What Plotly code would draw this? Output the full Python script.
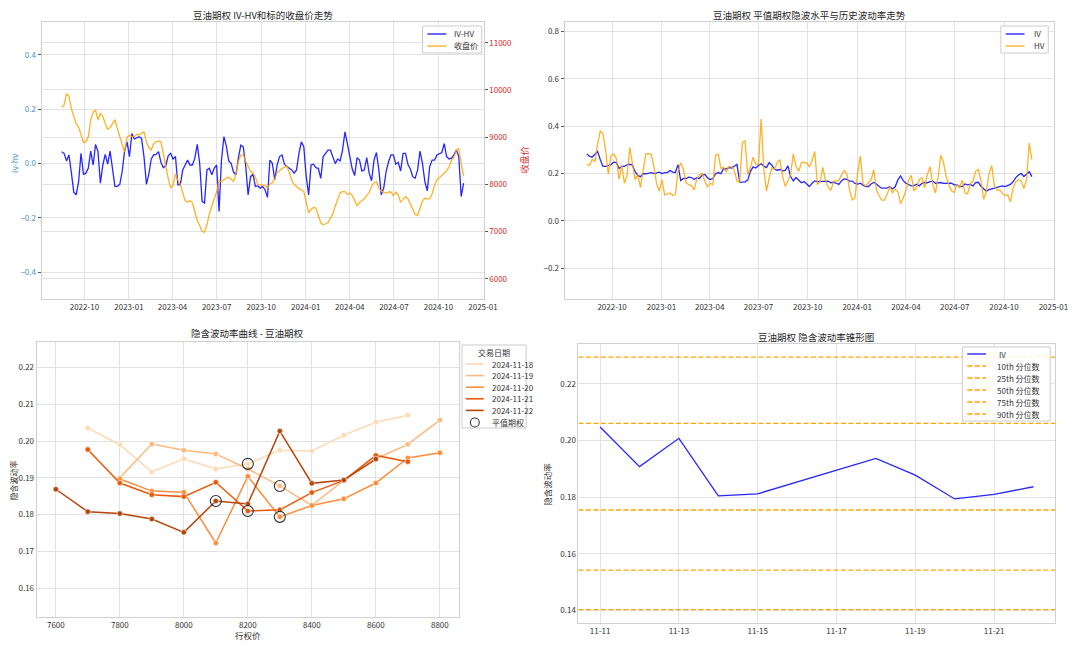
import pandas as pd
import plotly.graph_objects as go

# ---------------- data ----------------
# top panels: sampled every 5 calendar days, 2022-08-15 .. 2024-11-22
ts_start = "2022-08-15"
ts_end = "2024-11-22"

iv_minus_hv = [
    0.044, 0.038, 0.010, 0.032, -0.032, -0.105, -0.115, -0.066, 0.038, -0.039,
    -0.035, -0.017, 0.046, -0.005, 0.071, 0.044, -0.072, -0.005, 0.034, -0.002,
    0.046, -0.017, -0.084, -0.084, -0.076, -0.029, 0.046, 0.080, 0.026, 0.111,
    0.090, 0.095, 0.099, 0.093, 0.026, -0.076, -0.039, 0.017, 0.032, 0.034,
    0.044, 0.005, -0.015, -0.007, 0.029, 0.038, 0.017, 0.026, -0.078, -0.078,
    -0.023, -0.005, 0.013, -0.005, -0.005, 0.020, 0.071, 0.001, -0.139, -0.145,
    -0.023, -0.017, -0.041, -0.017, -0.005, -0.176, 0.013, 0.099, 0.065, 0.010,
    0.001, -0.032, -0.041, 0.022, 0.068, 0.062, -0.007, -0.115, -0.048, -0.039,
    -0.084, -0.082, -0.090, -0.084, -0.096, -0.124, 0.013, 0.001, -0.060, -0.005,
    0.026, 0.032, -0.002, -0.011, -0.017, -0.023, -0.035, -0.023, 0.038, 0.080,
    0.062, -0.048, -0.115, -0.005, -0.002, -0.015, -0.017, -0.054, 0.026, 0.038,
    0.050, 0.050, 0.026, 0.000, 0.017, 0.010, 0.050, 0.117, 0.074, 0.029,
    -0.020, -0.044, 0.022, 0.013, -0.027, -0.023, 0.022, -0.035, -0.063, 0.013,
    0.041, -0.023, -0.115, -0.090, -0.029, 0.007, 0.032, 0.032, -0.002, 0.005,
    -0.027, 0.038, 0.038, -0.002, -0.020, -0.048, -0.054, -0.023, 0.046, 0.001,
    -0.066, -0.100, -0.011, 0.013, 0.013, 0.032, 0.038, 0.041, 0.074, 0.026,
    0.017, 0.020, 0.032, 0.050, 0.026, -0.121, -0.072,
]

close_price = [
    9631, 9680, 9920, 9870, 9610, 9420, 9280, 9215, 9070, 8890,
    8905, 9000, 9360, 9530, 9570, 9370, 9500, 9440, 9290, 9170,
    9200, 9290, 9370, 9184, 9030, 8860, 8680, 9000, 9040, 9010,
    9010, 9057, 9050, 9080, 9113, 8900, 8780, 8730, 8860, 8900,
    8915, 8900, 8640, 8310, 8130, 7930, 7979, 8220, 8085, 8000,
    7840, 7650, 7624, 7650, 7610, 7433, 7234, 7128, 7000, 6986,
    7142, 7376, 7553, 7695, 7837, 8071, 8057, 8099, 8135, 8149,
    8106, 8064, 8227, 8489, 8617, 8631, 8489, 8369, 8277, 8241,
    8156, 7993, 7993, 7979, 7979, 7922, 8007, 8035, 8120, 8248,
    8298, 8333, 8362, 8390, 8248, 8085, 8000, 7943, 7908, 7879,
    7851, 7624, 7397, 7468, 7511, 7496, 7340, 7185, 7142, 7163,
    7185, 7284, 7376, 7539, 7695, 7823, 7844, 7844, 7780, 7816,
    7766, 7645, 7553, 7617, 7653, 7695, 7766, 7823, 7957, 8035,
    8057, 7922, 7851, 7837, 7816, 7837, 7837, 7766, 7837, 7766,
    7624, 7681, 7738, 7695, 7575, 7468, 7355, 7340, 7482, 7645,
    7709, 7688, 7695, 7801, 7979, 8099, 8142, 8199, 8241, 8284,
    8369, 8503, 8581, 8723, 8759, 8440, 8177,
]

atm_iv = [
    0.283, 0.272, 0.270, 0.283, 0.293, 0.258, 0.230, 0.230, 0.235, 0.237,
    0.248, 0.246, 0.221, 0.230, 0.230, 0.237, 0.239, 0.235, 0.208, 0.192,
    0.187, 0.199, 0.199, 0.200, 0.204, 0.200, 0.203, 0.206, 0.200, 0.204,
    0.204, 0.213, 0.206, 0.204, 0.237, 0.170, 0.179, 0.179, 0.185, 0.183,
    0.175, 0.182, 0.179, 0.193, 0.196, 0.182, 0.175, 0.179, 0.199, 0.204,
    0.199, 0.221, 0.220, 0.225, 0.223, 0.232, 0.239, 0.163, 0.163, 0.165,
    0.172, 0.208, 0.228, 0.223, 0.234, 0.241, 0.231, 0.225, 0.246, 0.235,
    0.218, 0.214, 0.217, 0.211, 0.213, 0.232, 0.187, 0.169, 0.183, 0.170,
    0.161, 0.166, 0.154, 0.145, 0.159, 0.169, 0.166, 0.166, 0.166, 0.165,
    0.168, 0.161, 0.163, 0.159, 0.154, 0.170, 0.177, 0.175, 0.168, 0.168,
    0.158, 0.155, 0.159, 0.151, 0.145, 0.145, 0.156, 0.162, 0.156, 0.145,
    0.138, 0.138, 0.138, 0.145, 0.135, 0.144, 0.173, 0.190, 0.170, 0.159,
    0.152, 0.148, 0.149, 0.155, 0.148, 0.159, 0.162, 0.161, 0.166, 0.168,
    0.159, 0.161, 0.162, 0.158, 0.159, 0.159, 0.159, 0.152, 0.152, 0.146,
    0.145, 0.156, 0.152, 0.154, 0.148, 0.162, 0.163, 0.146, 0.137, 0.125,
    0.132, 0.134, 0.138, 0.142, 0.144, 0.148, 0.145, 0.151, 0.154, 0.166,
    0.183, 0.194, 0.201, 0.187, 0.199, 0.207, 0.187,
]

hist_vol = [
    0.239, 0.234, 0.260, 0.251, 0.325, 0.380, 0.370, 0.296, 0.197, 0.276,
    0.283, 0.263, 0.175, 0.235, 0.159, 0.193, 0.311, 0.240, 0.174, 0.194,
    0.141, 0.216, 0.283, 0.284, 0.280, 0.229, 0.157, 0.126, 0.174, 0.110,
    0.114, 0.118, 0.107, 0.111, 0.211, 0.246, 0.218, 0.162, 0.153, 0.149,
    0.131, 0.177, 0.194, 0.200, 0.167, 0.144, 0.158, 0.153, 0.277, 0.282,
    0.222, 0.226, 0.207, 0.230, 0.228, 0.212, 0.168, 0.162, 0.330, 0.340,
    0.195, 0.225, 0.269, 0.240, 0.239, 0.430, 0.218, 0.126, 0.181, 0.225,
    0.217, 0.246, 0.258, 0.189, 0.145, 0.170, 0.194, 0.284, 0.231, 0.209,
    0.245, 0.248, 0.244, 0.229, 0.255, 0.293, 0.153, 0.165, 0.226, 0.170,
    0.142, 0.129, 0.165, 0.170, 0.171, 0.193, 0.212, 0.198, 0.130, 0.088,
    0.096, 0.203, 0.274, 0.156, 0.147, 0.160, 0.173, 0.216, 0.130, 0.107,
    0.088, 0.088, 0.112, 0.145, 0.118, 0.134, 0.123, 0.073, 0.096, 0.130,
    0.172, 0.192, 0.127, 0.142, 0.175, 0.182, 0.140, 0.196, 0.229, 0.155,
    0.118, 0.184, 0.277, 0.248, 0.188, 0.152, 0.127, 0.120, 0.154, 0.141,
    0.172, 0.118, 0.114, 0.156, 0.168, 0.210, 0.217, 0.169, 0.091, 0.124,
    0.198, 0.234, 0.149, 0.129, 0.131, 0.116, 0.107, 0.110, 0.080, 0.140,
    0.166, 0.174, 0.169, 0.137, 0.173, 0.328, 0.259,
]

# bottom-left: smile per trading date
strikes = [7600, 7700, 7800, 7900, 8000, 8100, 8200, 8300, 8400, 8500, 8600, 8700, 8800]
smile_dates = ["2024-11-18", "2024-11-19", "2024-11-20", "2024-11-21", "2024-11-22"]
iv_1118 = [None, 0.2035, 0.1990, 0.1916, 0.1952, 0.1924, 0.1938, 0.1975, 0.1973, 0.2016, 0.2051, 0.2070, None]
iv_1119 = [None, None, 0.1900, 0.1992, 0.1975, 0.1965, 0.1924, 0.1878, 0.1825, 0.1893, 0.1952, 0.1991, 0.2057]
iv_1120 = [None, None, 0.1897, 0.1864, 0.1861, 0.1723, 0.1904, 0.1794, 0.1825, 0.1843, 0.1886, 0.1954, 0.1968]
iv_1121 = [None, 0.1977, 0.1886, 0.1854, 0.1849, 0.1888, 0.1810, 0.1813, 0.1860, 0.1893, 0.1961, 0.1944, None]
iv_1122 = [0.1869, 0.1808, 0.1803, 0.1788, 0.1752, 0.1837, 0.1829, 0.2027, 0.1885, 0.1894, 0.1951, None, None]
atm_strikes = [8200, 8300, 8300, 8200, 8100]
smile_colors = ["#fdd9b4", "#fdb97d", "#fd8d3c", "#e8590c", "#b8450c"]

# bottom-right: IV cone
cone_dates = ["2024-11-11", "2024-11-12", "2024-11-13", "2024-11-14", "2024-11-15",
              "2024-11-18", "2024-11-19", "2024-11-20", "2024-11-21", "2024-11-22"]
cone_iv = [0.2048, 0.1908, 0.2008, 0.1805, 0.1812, 0.1937, 0.1878, 0.1794, 0.1810, 0.1837]
pct_labels = ["10th 分位数", "25th 分位数", "50th 分位数", "75th 分位数", "90th 分位数"]
pct_values = [0.1403, 0.1543, 0.1755, 0.2061, 0.2295]

# ---------------- helpers ----------------
# the page body adds an 8px margin; positions below are given in window pixels
OFF = 8
W, H = 1072, 638
FONT = "Noto Sans CJK SC, DejaVu Sans, sans-serif"
GRID = "#e2e2e2"
SPINE = "#d0d0d0"
TXT = "#333333"
BLUE = "rgba(0,0,255,0.85)"
ORANGE = "rgba(255,165,0,0.85)"


def fx(px):
    return (px - OFF) / W


def fy(py):
    return 1 - (py - OFF) / H


def xd(a, b):
    return [fx(a), fx(b)]


def yd(top, bottom):
    return [fy(bottom), fy(top)]


ts_dates = pd.date_range(ts_start, ts_end, freq="5D")
span = ts_dates[-1] - ts_dates[0]
ts_range = [ts_dates[0] - 0.05 * span, ts_dates[-1] + 0.05 * span]

cd = pd.to_datetime(cone_dates)
cspan = cd[-1] - cd[0]
cone_range = [cd[0] - 0.05 * cspan, cd[-1] + 0.05 * cspan]

smin, smax = min(strikes), max(strikes)
strike_range = [smin - 0.05 * (smax - smin), smax + 0.05 * (smax - smin)]

fig = go.Figure()

# ---- top-left ----
fig.add_trace(go.Scatter(x=ts_dates, y=iv_minus_hv, mode="lines", name="IV-HV",
                         line=dict(color=BLUE, width=1.3), xaxis="x", yaxis="y"))
fig.add_trace(go.Scatter(x=ts_dates, y=close_price, mode="lines", name="收盘价",
                         line=dict(color=ORANGE, width=1.3), xaxis="x", yaxis="y2"))

# ---- top-right ----
fig.add_trace(go.Scatter(x=ts_dates, y=atm_iv, mode="lines", name="IV",
                         line=dict(color=BLUE, width=1.3), xaxis="x2", yaxis="y3"))
fig.add_trace(go.Scatter(x=ts_dates, y=hist_vol, mode="lines", name="HV",
                         line=dict(color=ORANGE, width=1.3), xaxis="x2", yaxis="y3"))

# ---- bottom-left ----
smiles = [iv_1118, iv_1119, iv_1120, iv_1121, iv_1122]
for d, ivs, col in zip(smile_dates, smiles, smile_colors):
    xs = [s for s, v in zip(strikes, ivs) if v is not None]
    ys = [v for v in ivs if v is not None]
    fig.add_trace(go.Scatter(x=xs, y=ys, mode="lines+markers", name=d,
                             line=dict(color=col, width=1.5),
                             marker=dict(color=col, size=5.5, line=dict(color="white", width=0.6)),
                             xaxis="x3", yaxis="y4"))
atm_x = []
atm_y = []
for ivs, k in zip(smiles, atm_strikes):
    atm_x.append(k)
    atm_y.append(ivs[strikes.index(k)])
fig.add_trace(go.Scatter(x=atm_x, y=atm_y, mode="markers", name="平值期权",
                         marker=dict(symbol="circle-open", size=11, color="#333333",
                                     line=dict(width=1.1, color="#333333")),
                         xaxis="x3", yaxis="y4"))

# ---- bottom-right ----
fig.add_trace(go.Scatter(x=cd, y=cone_iv, mode="lines", name="IV",
                         line=dict(color=BLUE, width=1.3), xaxis="x4", yaxis="y5"))
PCT_DASH = "5px,2.5px"
for lab, v in zip(pct_labels, pct_values):
    fig.add_trace(go.Scatter(x=cone_range, y=[v, v], mode="lines", name=lab,
                             line=dict(color="orange", width=1.3, dash=PCT_DASH),
                             xaxis="x4", yaxis="y5"))

# ---------------- layout ----------------
def axis_common(**kw):
    d = dict(showgrid=True, gridcolor=GRID, gridwidth=1, showline=True, linecolor=SPINE,
             linewidth=1, mirror=True, zeroline=False, ticks="", ticklen=0,
             tickfont=dict(family=FONT, size=8, color=TXT))
    d.update(kw)
    return d


TOP = yd(22, 299)

fig.update_layout(
    width=W, height=H, margin=dict(l=0, r=0, t=0, b=0),
    paper_bgcolor="white", plot_bgcolor="white", showlegend=False,
    font=dict(family=FONT, size=8, color=TXT),
    xaxis=axis_common(domain=xd(42, 490), anchor="y", type="date", range=ts_range,
                      dtick="M3", tick0="2022-10-01", tickformat="%Y-%m"),
    yaxis=axis_common(domain=TOP, anchor="x", range=[-0.498, 0.521], dtick=0.2,
                      tickformat=".1f", ticks="outside", ticklen=3, tickcolor="#555",
                      tickfont=dict(family=FONT, size=8, color="#4a90c4")),
    yaxis2=axis_common(overlaying="y", side="right", anchor="x", range=[5570, 11440],
                       dtick=1000, tickformat="d", ticks="outside", ticklen=3, tickcolor="#555",
                       mirror=False, tickfont=dict(family=FONT, size=8, color="#d62728")),
    xaxis2=axis_common(domain=xd(572, 1068), anchor="y3", type="date", range=ts_range,
                       dtick="M3", tick0="2022-10-01", tickformat="%Y-%m"),
    yaxis3=axis_common(domain=TOP, anchor="x2", range=[-0.33, 0.84], dtick=0.2,
                       tickformat=".1f", ticks="outside", ticklen=3, tickcolor="#555"),
    xaxis3=axis_common(domain=xd(37, 465), anchor="y4", range=strike_range, dtick=200),
    yaxis4=axis_common(domain=yd(342, 617), anchor="x3", range=[0.1522, 0.2269], dtick=0.01,
                       tickformat=".2f"),
    xaxis4=axis_common(domain=xd(586, 1069), anchor="y5", type="date", range=cone_range,
                       dtick=2 * 86400000, tick0="2024-11-11", tickformat="%m-%d"),
    yaxis5=axis_common(domain=yd(344, 623), anchor="x4", range=[0.1356, 0.2341], dtick=0.02,
                       tickformat=".2f"),
)

ann = []
shapes = []


def text(t, xpx, ypx, size=8, color=TXT, anchor="center", angle=0, pad=1):
    ann.append(dict(text=t, x=fx(xpx), y=fy(ypx), xref="paper", yref="paper",
                    showarrow=False, textangle=angle, borderpad=pad,
                    font=dict(family=FONT, size=size, color=color),
                    xanchor=anchor, yanchor="middle"))


def box(x0, y0, x1, y1):
    shapes.append(dict(type="rect", xref="paper", yref="paper",
                       x0=fx(x0), x1=fx(x1), y0=fy(y1), y1=fy(y0),
                       fillcolor="rgba(255,255,255,0.85)",
                       line=dict(color="#cccccc", width=1), layer="above"))


def sample_line(x0, x1, y, color, width=1.4, dash="solid"):
    shapes.append(dict(type="line", xref="paper", yref="paper",
                       x0=fx(x0), x1=fx(x1), y0=fy(y), y1=fy(y),
                       line=dict(color=color, width=width, dash=dash), layer="above"))


def sample_circle(xc, yc, r, color):
    shapes.append(dict(type="circle", xref="paper", yref="paper",
                       x0=fx(xc - r), x1=fx(xc + r), y0=fy(yc + r), y1=fy(yc - r),
                       line=dict(color=color, width=1.1), layer="above"))


# titles and axis labels
text("豆油期权 IV-HV和标的收盘价走势", 266, 15.5, size=9.5, color="#262626", pad=0)
text("豆油期权 平值期权隐波水平与历史波动率走势", 820, 15.5, size=9.5, color="#262626", pad=0)
text("隐含波动率曲线 - 豆油期权", 251, 333, size=9.5, color="#262626")
text("豆油期权 隐含波动率锥形图", 827, 337, size=9.5, color="#262626")
text("iv-hv", 14, 163, size=8.5, color="#4a90c4", angle=-90, pad=0)
text("收盘价", 531, 160, size=9, color="#d62728", angle=-90)
text("隐含波动率", 13.5, 480, size=8, angle=-90, pad=0)
text("隐含波动率", 554, 484, size=8.5, angle=-90)
text("行权价", 251, 635, size=8.5, pad=0)

# legend: top-left
box(428, 26, 488, 53)
sample_line(433, 452, 34, BLUE)
text("IV-HV", 458, 34, anchor="left")
sample_line(433, 452, 46, ORANGE)
text("收盘价", 458, 46, anchor="left")

# legend: top-right
box(1014, 26, 1062, 53)
sample_line(1019, 1038, 34, BLUE)
text("IV", 1046, 34, anchor="left")
sample_line(1019, 1038, 46, ORANGE)
text("HV", 1046, 46, anchor="left")

# legend: bottom-left
box(468, 345, 533, 428)
text("交易日期", 500, 352)
for i, (d, col) in enumerate(zip(smile_dates, smile_colors)):
    yy = 364 + i * 11.6
    sample_line(472, 490, yy, col, width=1.6)
    text(d, 496, yy, anchor="left")
sample_circle(481, 422.5, 4.5, "#333333")
text("平值期权", 496, 422.5, anchor="left")

# legend: bottom-right
box(975, 347, 1064, 421)
sample_line(980, 999, 354, BLUE)
text("IV", 1010, 354, anchor="left")
for i, lab in enumerate(pct_labels):
    yy = 366 + i * 12
    sample_line(980, 999, yy, "orange", dash=PCT_DASH)
    text(lab, 1008, yy, anchor="left")

fig.update_layout(annotations=ann, shapes=shapes)

fig.write_html("out.html")
